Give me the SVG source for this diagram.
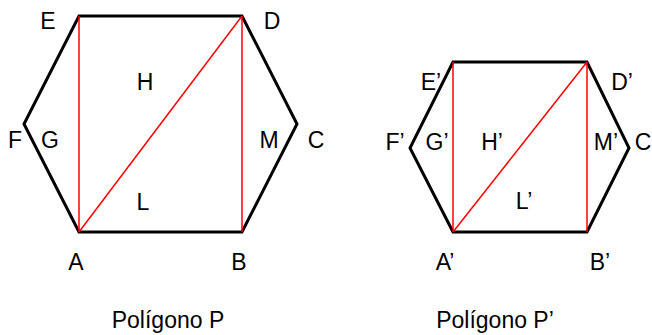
<svg xmlns="http://www.w3.org/2000/svg" width="652" height="335" viewBox="0 0 652 335">
<style>
.hex{fill:none;stroke:#000;stroke-width:3;stroke-linejoin:miter}
.diag{fill:none;stroke:#ff0000;stroke-width:1.5}
text{font-family:"Liberation Sans","Open Sans",sans-serif;font-size:23px;fill:#000;text-anchor:middle}
.cap{font-size:23px}
</style>
<rect width="652" height="335" fill="#fff"/>
<g id="poligono-P">
<polygon class="hex" points="79,16 242,16 297,124 242,232 79,232 24,124"/>
<g id="connectors-P">
<line class="diag" x1="79" y1="16" x2="79" y2="232"/>
<line class="diag" x1="242" y1="16" x2="242" y2="232"/>
<line class="diag" x1="79" y1="232" x2="242" y2="16"/>
</g>
<text x="48" y="29">E</text>
<text x="272" y="29">D</text>
<text x="145" y="90">H</text>
<text x="15" y="148">F</text>
<text x="50" y="148">G</text>
<text x="269" y="148">M</text>
<text x="316" y="148">C</text>
<text x="143" y="210">L</text>
<text x="76" y="270">A</text>
<text x="239" y="270">B</text>
<text class="cap" x="168" y="328">Polígono P</text>
</g>
<g id="poligono-P2">
<polygon class="hex" points="453,62 587,62 629,148 587,232 453,232 410,148"/>
<g id="connectors-P2">
<line class="diag" x1="453" y1="62" x2="453" y2="232"/>
<line class="diag" x1="587" y1="62" x2="587" y2="232"/>
<line class="diag" x1="453" y1="232" x2="587" y2="62"/>
</g>
<text x="431" y="90">E’</text>
<text x="622" y="90">D’</text>
<text x="395" y="150">F’</text>
<text x="437" y="150">G’</text>
<text x="492" y="150">H’</text>
<text x="606" y="150">M’</text>
<text x="643" y="150">C</text>
<text x="524" y="209">L’</text>
<text x="445" y="270">A’</text>
<text x="600" y="270">B’</text>
<text class="cap" x="495" y="328">Polígono P’</text>
</g>
</svg>
